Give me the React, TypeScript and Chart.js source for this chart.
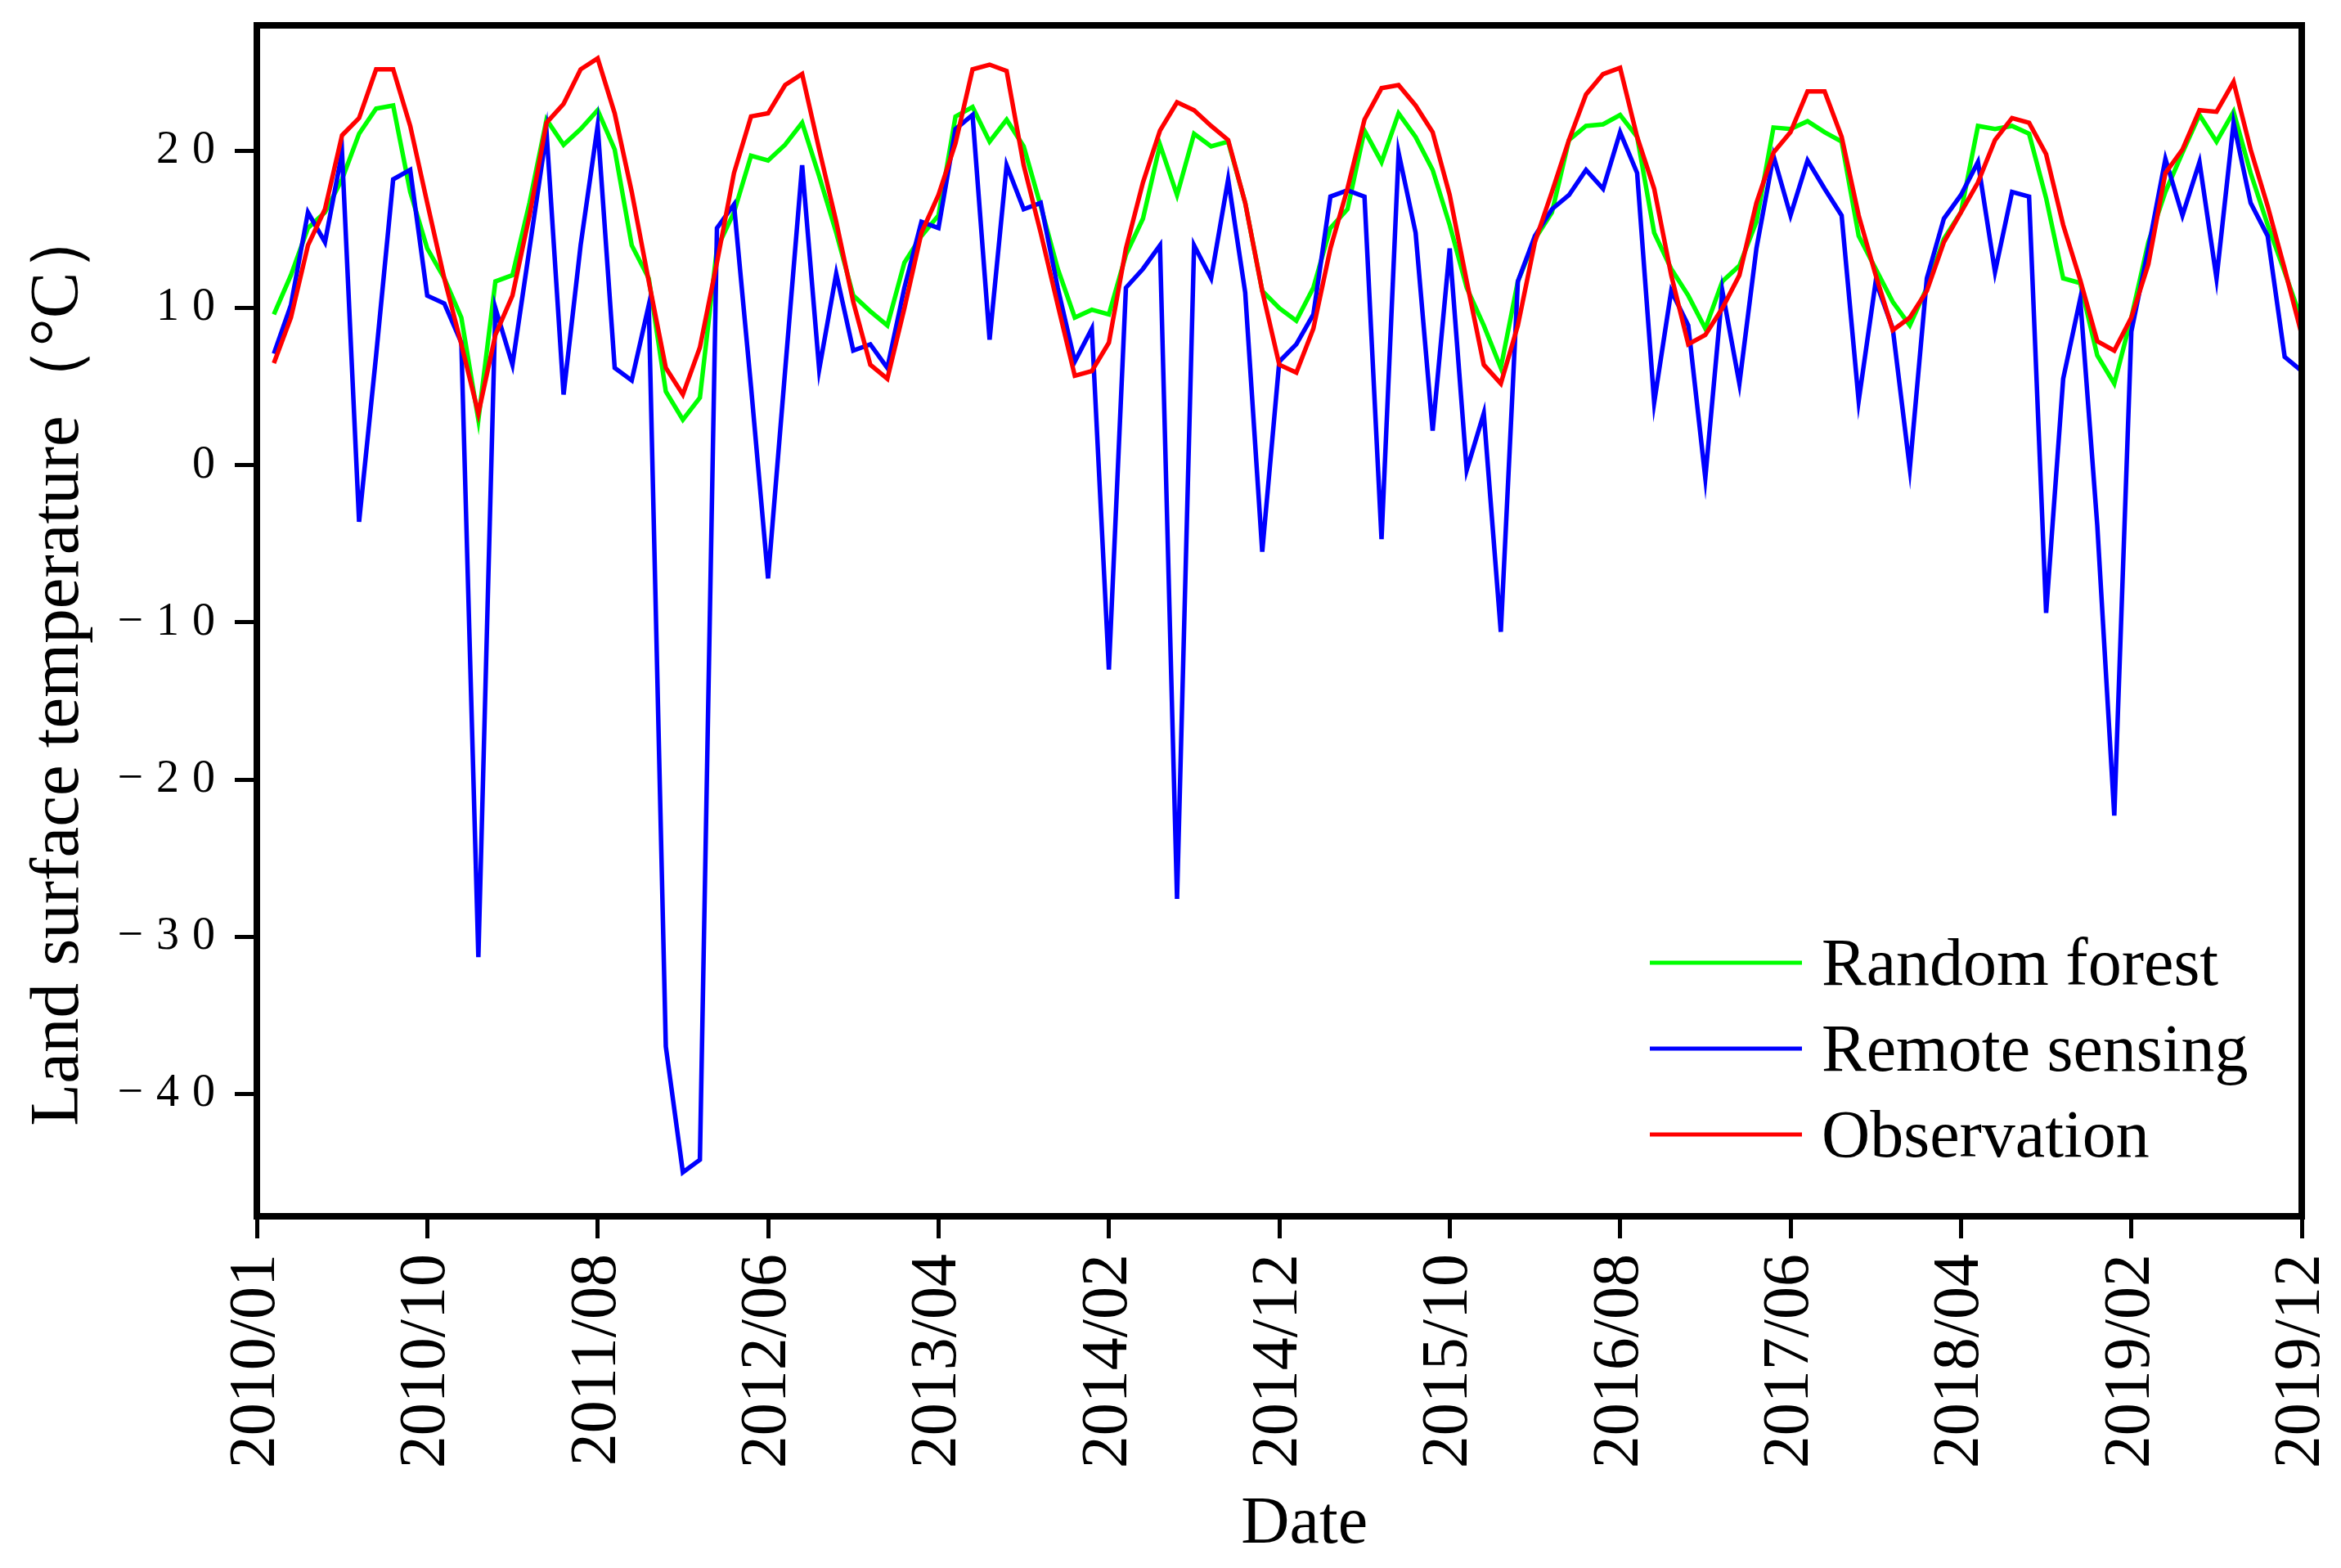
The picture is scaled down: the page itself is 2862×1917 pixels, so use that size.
import React, { useEffect, useRef } from 'react';
import { Chart, registerables } from 'chart.js';

Chart.register(...registerables);

const xTickLabels = ['2010/01', '2010/10', '2011/08', '2012/06', '2013/04', '2014/02', '2014/12', '2015/10', '2016/08', '2017/06', '2018/04', '2019/02', '2019/12'];
const yTickValues = [-40, -30, -20, -10, 0, 10, 20];

const observation = [
  6.5, 9.4, 14.0, 16.3, 21.0, 22.1, 25.2, 25.2, 21.6, 16.7,
  11.9, 7.7, 3.3, 8.3, 10.8, 15.9, 21.8, 23.0, 25.2, 25.9,
  22.4, 17.4, 11.7, 6.2, 4.5, 7.5, 12.9, 18.6, 22.2, 22.4,
  24.2, 24.9, 20.1, 15.5, 10.4, 6.4, 5.5, 10.0, 14.8, 17.2,
  20.5, 25.2, 25.5, 25.1, 19.1, 14.8, 10.2, 5.7, 6.0, 7.8,
  13.8, 18.0, 21.3, 23.1, 22.6, 21.6, 20.7, 16.7, 11.1, 6.4,
  5.9, 8.7, 13.8, 17.6, 22.0, 24.0, 24.2, 22.9, 21.2, 17.2,
  11.7, 6.4, 5.2, 8.9, 14.2, 17.4, 20.7, 23.6, 24.9, 25.3,
  20.9, 17.6, 12.1, 7.7, 8.3, 10.0, 12.1, 16.7, 19.9, 21.2,
  23.8, 23.8, 20.9, 15.9, 12.1, 8.6, 9.4, 11.1, 14.2, 16.1,
  18.0, 20.7, 22.1, 21.8, 19.8, 15.3, 11.8, 7.9, 7.3, 9.4,
  12.8, 18.6, 20.1, 22.6, 22.5, 24.4, 20.1, 16.5, 12.5, 8.3,
];

const randomForest = [
  9.6, 12.1, 15.1, 16.1, 18.2, 21.1, 22.7, 22.9, 17.4, 13.8,
  11.9, 9.4, 2.9, 11.7, 12.1, 16.7, 22.0, 20.4, 21.4, 22.6,
  20.1, 14.0, 11.9, 4.7, 2.9, 4.3, 13.8, 16.1, 19.7, 19.4,
  20.4, 21.8, 18.4, 14.8, 10.8, 9.8, 8.9, 12.9, 14.6, 15.9,
  22.2, 22.8, 20.6, 22.0, 20.3, 16.5, 12.5, 9.4, 9.9, 9.6,
  13.4, 15.7, 20.4, 17.2, 21.1, 20.3, 20.6, 16.7, 11.1, 10.0,
  9.2, 11.3, 15.1, 16.3, 21.3, 19.3, 22.4, 20.9, 18.8, 15.3,
  11.3, 8.9, 6.2, 11.7, 14.4, 16.1, 20.7, 21.6, 21.7, 22.3,
  20.9, 14.8, 12.5, 10.8, 8.7, 11.7, 12.7, 15.5, 21.5, 21.4,
  21.9, 21.2, 20.6, 14.6, 12.5, 10.4, 8.9, 11.3, 14.4, 16.1,
  21.6, 21.4, 21.6, 21.1, 17.0, 11.9, 11.6, 7.0, 5.2, 9.4,
  14.2, 17.4, 19.9, 22.3, 20.6, 22.5, 18.6, 15.3, 12.3, 9.2,
];

const remoteSensing = [
  7.1, 10.2, 16.1, 14.2, 19.9, -3.6, 7.0, 18.2, 18.8, 10.8,
  10.3, 7.8, -31.3, 10.0, 6.4, 13.8, 21.2, 4.5, 14.0, 21.6,
  6.2, 5.4, 10.2, -37.0, -45.0, -44.2, 15.1, 16.6, 5.0, -7.2,
  6.0, 19.1, 6.1, 12.2, 7.3, 7.7, 6.2, 11.3, 15.5, 15.1,
  21.4, 22.3, 8.0, 19.1, 16.3, 16.7, 11.3, 6.6, 8.7, -13.0,
  11.3, 12.5, 14.0, -27.6, 14.0, 11.9, 18.2, 11.0, -5.5, 6.6,
  7.7, 9.6, 17.1, 17.5, 17.1, -4.7, 19.9, 14.8, 2.2, 13.8,
  -0.3, 3.3, -10.6, 11.7, 14.6, 16.3, 17.2, 18.8, 17.6, 21.2,
  18.6, 4.0, 11.1, 8.9, -0.8, 11.1, 5.2, 13.8, 19.7, 15.9,
  19.4, 17.6, 15.9, 4.1, 11.7, 8.7, -0.2, 11.9, 15.7, 17.2,
  19.3, 12.3, 17.4, 17.1, -9.4, 5.5, 10.6, -3.8, -22.3, 8.5,
  13.8, 19.5, 15.9, 19.3, 11.9, 21.8, 16.7, 14.6, 6.9, 6.0,
];

const legendOrder = ['Random forest', 'Remote sensing', 'Observation'];

const FONT = "'Liberation Serif', 'Times New Roman', serif";

const toPoints = (arr: number[]) => arr.map((v, i) => ({ x: i + 1, y: v }));

const frameAndLegend = {
  id: 'frameAndLegend',
  afterLayout(chart: any) {
    const s = chart.scales.y;
    if (s && !s.__spaced) {
      const orig = s.drawLabels.bind(s);
      s.drawLabels = (area: any) => {
        const ctx = chart.ctx;
        ctx.save();
        (ctx as any).letterSpacing = '16px';
        orig(area);
        ctx.restore();
      };
      s.__spaced = true;
    }
  },
  afterDatasetsDraw(chart: any) {
    const { ctx, chartArea } = chart;
    ctx.save();
    ctx.strokeStyle = '#000';
    ctx.lineWidth = 8;
    ctx.strokeRect(chartArea.left, chartArea.top, chartArea.right - chartArea.left, chartArea.bottom - chartArea.top);
    ctx.restore();
  },
  afterDraw(chart: any) {
    const { ctx, chartArea } = chart;
    ctx.save();
    ctx.font = `82px ${FONT}`;
    ctx.textAlign = 'left';
    ctx.textBaseline = 'alphabetic';
    legendOrder.forEach((name, k) => {
      const ds = chart.data.datasets.find((d: any) => d.label === name);
      const y = chartArea.bottom - 310 + k * 105;
      ctx.strokeStyle = ds.borderColor;
      ctx.lineWidth = 5;
      ctx.beginPath();
      ctx.moveTo(chartArea.right - 797, y);
      ctx.lineTo(chartArea.right - 611, y);
      ctx.stroke();
      ctx.fillStyle = '#000';
      ctx.fillText(name, chartArea.right - 587, y + 27);
    });
    ctx.restore();
  },
};

export default function App() {
  const ref = useRef<HTMLCanvasElement | null>(null);

  useEffect(() => {
    if (!ref.current) return;
    Chart.defaults.font.family = FONT;
    Chart.defaults.color = '#000';
    const lineStyle = { borderWidth: 5.5, pointRadius: 0, tension: 0 };
    const chart = new Chart(ref.current, {
      type: 'line',
      data: {
        datasets: [
          { label: 'Observation', data: toPoints(observation), borderColor: '#ff0000', backgroundColor: '#ff0000', ...lineStyle },
          { label: 'Remote sensing', data: toPoints(remoteSensing), borderColor: '#0000ff', backgroundColor: '#0000ff', ...lineStyle },
          { label: 'Random forest', data: toPoints(randomForest), borderColor: '#00ff00', backgroundColor: '#00ff00', ...lineStyle },
        ],
      },
      options: {
        responsive: false,
        animation: false,
        devicePixelRatio: 1,
        layout: { padding: { top: 31, right: 48, left: 0, bottom: 0 } },
        plugins: {
          legend: { display: false },
          tooltip: { enabled: false },
        },
        scales: {
          x: {
            type: 'linear',
            min: 0,
            max: 120,
            afterBuildTicks: (scale: any) => {
              scale.ticks = xTickLabels.map((_, k) => ({ value: k * 10 }));
            },
            afterFit: (scale: any) => {
              scale.height = 430;
              scale.paddingLeft = 0;
              scale.paddingRight = 0;
            },
            ticks: {
              autoSkip: false,
              minRotation: 90,
              maxRotation: 90,
              padding: 19,
              color: '#000',
              font: { family: FONT, size: 80, lineHeight: 1.0 },
              callback: (value: any) => xTickLabels[Math.round(Number(value) / 10)] ?? '',
            },
            grid: { display: true, drawOnChartArea: false, drawTicks: true, tickLength: 27, tickWidth: 5, tickColor: '#000' },
            border: { display: true, color: '#000', width: 8 },
            title: {
              display: true,
              text: '\u00A0\u00A0\u00A0Date',
              color: '#000',
              font: { family: FONT, size: 82, lineHeight: 1.2 },
              padding: { top: 0, bottom: 3 },
            },
          },
          y: {
            type: 'linear',
            min: -47.8,
            max: 28,
            afterBuildTicks: (scale: any) => {
              scale.ticks = yTickValues.map((v) => ({ value: v }));
            },
            afterFit: (scale: any) => {
              scale.width = 314;
              scale.paddingTop = 0;
              scale.paddingBottom = 0;
            },
            ticks: {
              padding: 8,
              color: '#000',
              font: { family: FONT, size: 56, lineHeight: 1.0 },
              callback: (value: any) => {
                const n = Number(value);
                return n < 0 ? '\u2212' + Math.abs(n) : String(n);
              },
            },
            grid: { display: true, drawOnChartArea: false, drawTicks: true, tickLength: 27, tickWidth: 5, tickColor: '#000' },
            border: { display: true, color: '#000', width: 8 },
            title: {
              display: true,
              text: 'Land surface temperature\uFF08\u00B0C\uFF09\u2003\u00A0',
              color: '#000',
              font: { family: FONT, size: 85, lineHeight: 1.2 },
              padding: { top: 22, bottom: 0 },
            },
          },
        },
      },
      plugins: [frameAndLegend],
    } as any);
    return () => chart.destroy();
  }, []);

  return (
    <canvas
      ref={ref}
      width={2862}
      height={1917}
      style={{ position: 'fixed', left: 0, top: 0, width: '2862px', height: '1917px', background: '#fff' }}
    />
  );
}
